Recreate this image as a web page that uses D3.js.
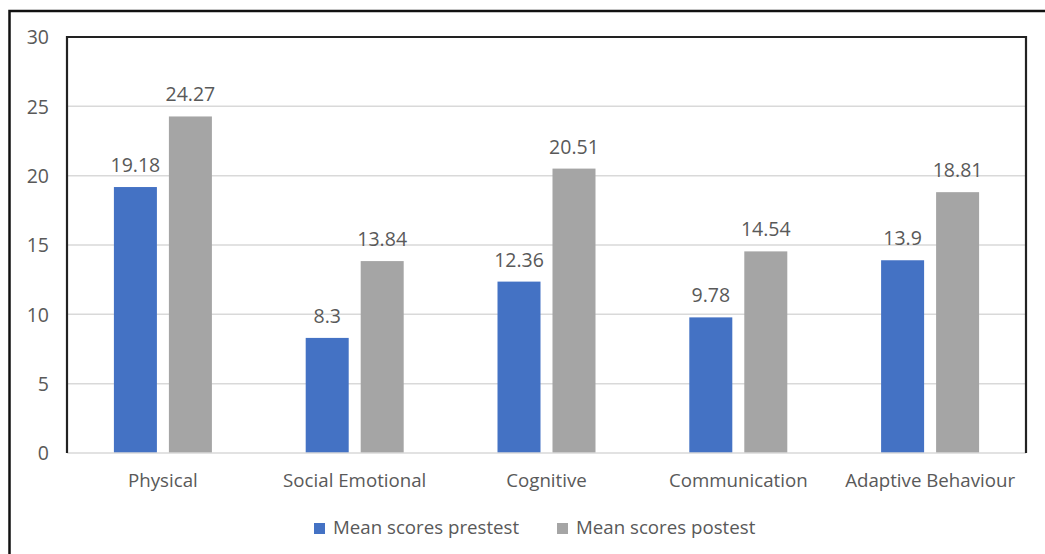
<!DOCTYPE html>
<html>
<head>
<meta charset="utf-8">
<script src="https://cdn.jsdelivr.net/npm/d3@7/dist/d3.min.js"></script>
<style>
  html, body { margin: 0; padding: 0; background: #fff; }
  svg { display: block; }
  text { font-family: "Open Sans", "Segoe UI", sans-serif; fill: #595959; }
</style>
</head>
<body>
<svg id="chart" width="1045" height="554"></svg>
<script>
// Domain scores before and after the programme
const categories = ["Physical", "Social Emotional", "Cognitive", "Communication", "Adaptive Behaviour"];
const seriesNames = ["Mean scores prestest", "Mean scores postest"];
const prestest = [19.18, 8.3, 12.36, 9.78, 13.9];
const postest = [24.27, 13.84, 20.51, 14.54, 18.81];
const yTicks = [0, 5, 10, 15, 20, 25, 30];
const colors = ["#4472C4", "#A5A5A5"];

const svg = d3.select("#chart");
const W = 1045, H = 554;
const plot = { left: 67, right: 1026, top: 37, bottom: 453 };

// Outer frame (runs off the right and bottom edges)
svg.append("rect")
  .attr("x", 9.5).attr("y", 11).attr("width", W + 20).attr("height", H + 20)
  .attr("fill", "none").attr("stroke", "#111").attr("stroke-width", 2.5);

const x0 = d3.scaleBand().domain(categories).range([plot.left, plot.right]).padding(0);
const groupW = 98;
const x1 = d3.scaleBand().domain(seriesNames)
  .range([x0.bandwidth() / 2 - groupW / 2, x0.bandwidth() / 2 + groupW / 2])
  .paddingInner(0.218).paddingOuter(0);
const y = d3.scaleLinear().domain([0, 30]).range([plot.bottom, plot.top]);

// Gridlines
svg.append("g").selectAll("line").data(yTicks.filter(t => t > 0 && t < 30)).join("line")
  .attr("x1", plot.left).attr("x2", plot.right)
  .attr("y1", d => y(d)).attr("y2", d => y(d))
  .attr("stroke", "#D9D9D9").attr("stroke-width", 1.5);

// Y axis labels
const yAxis = d3.axisLeft(y).tickValues(yTicks).tickSize(0).tickPadding(0).tickFormat(d3.format("d"));
const yg = svg.append("g").attr("transform", `translate(49,0)`).call(yAxis);
yg.select(".domain").remove();
yg.selectAll("text").attr("font-size", 19.5).attr("fill", "#595959")
  .style("font-family", '"Open Sans", sans-serif').attr("dy", "0.35em");

// Bars
const rows = categories.map((c, i) => ({ cat: c, vals: [prestest[i], postest[i]] }));
const groups = svg.append("g").selectAll("g").data(rows).join("g")
  .attr("transform", d => `translate(${x0(d.cat)},0)`);

groups.selectAll("rect").data(d => d.vals.map((v, j) => ({ s: seriesNames[j], v, j }))).join("rect")
  .attr("x", d => x1(d.s)).attr("width", x1.bandwidth())
  .attr("y", d => y(d.v)).attr("height", d => y(0) - y(d.v))
  .attr("fill", d => colors[d.j]);

// Value labels
groups.selectAll("text.val").data(d => d.vals.map((v, j) => ({ s: seriesNames[j], v, j }))).join("text")
  .attr("class", "val")
  .attr("x", d => x1(d.s) + x1.bandwidth() / 2)
  .attr("y", d => y(d.v) - 15)
  .attr("text-anchor", "middle").attr("font-size", 19.5)
  .text(d => String(d.v));

// Baseline
svg.append("line").attr("x1", plot.left).attr("x2", plot.right)
  .attr("y1", y(0)).attr("y2", y(0)).attr("stroke", "#D9D9D9").attr("stroke-width", 1.5);

// Plot frame on left, top and right
svg.append("path")
  .attr("d", `M${plot.left},${plot.bottom} V${plot.top} H${plot.right} V${plot.bottom}`)
  .attr("fill", "none").attr("stroke", "#222").attr("stroke-width", 2.2);

// Category labels
const xAxis = d3.axisBottom(x0).tickSize(0).tickPadding(0);
const xg = svg.append("g").attr("transform", `translate(0,487)`).call(xAxis);
xg.select(".domain").remove();
xg.selectAll("text").attr("font-size", 18.7).attr("fill", "#595959").attr("dy", 0)
  .style("font-family", '"Open Sans", sans-serif');

// Legend
const legendX = [314, 557];
const legend = svg.append("g").selectAll("g").data(seriesNames).join("g")
  .attr("transform", (d, i) => `translate(${legendX[i]},523)`);
legend.append("rect").attr("width", 11).attr("height", 11).attr("fill", (d, i) => colors[i]);
legend.append("text").attr("x", 19).attr("y", 11).attr("font-size", 18.7).text(d => d);
</script>
</body>
</html>
